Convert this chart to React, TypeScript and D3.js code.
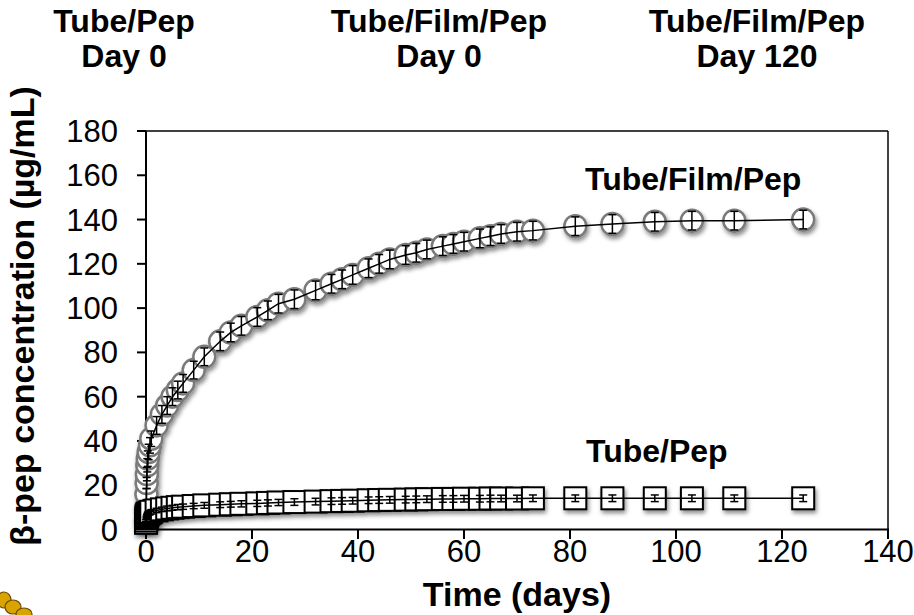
import React from 'react';
import * as d3 from 'd3';

const days = [
  0, 0.04, 0.08, 0.125, 0.17, 0.25, 0.33, 0.5, 0.75, 1, 2, 3, 4, 5, 6, 7, 9, 11, 14, 16, 18, 21, 23, 25, 28,
  32, 35, 37, 39, 42, 44, 46, 49, 51, 53, 56, 58, 60, 63, 65, 67, 70, 73, 81, 88, 96, 103, 111, 124,
];

const filmPep = [
  4, 10, 16, 21, 25, 29, 32, 35, 38, 41, 47, 52, 56, 60, 63, 66, 72, 78, 85, 89, 92, 96, 99, 102, 104,
  108, 111, 113, 115, 118, 120, 122, 124, 125, 126.5, 128, 129, 130, 131.5, 132.5, 133.5, 134.5, 135, 137, 138, 139, 139.5, 139.5, 140,
];
const filmErr = [
  1.5, 2, 2.5, 2.5, 3, 3, 3.5, 3.5, 3.5, 3.5, 4, 4, 4, 4, 4, 4, 4, 4, 4.2, 4.2, 4.2, 4.2, 4.2, 4.2, 4.2,
  4.2, 4.2, 4.2, 4.2, 4.2, 4.2, 4.2, 4.2, 4.2, 4.2, 4.2, 4.2, 4.2, 4.2, 4.2, 4.2, 4.2, 4.2, 4.2, 4.2, 4.2, 4.2, 4.2, 4.2,
];

const tubePep = [
  3, 4, 5, 5.5, 6, 6.5, 7, 7.3, 7.6, 8, 8.6, 9.1, 9.5, 9.8, 10.1, 10.3, 10.6, 10.9, 11.2, 11.4, 11.6, 11.8, 12, 12.2, 12.4,
  12.6, 12.8, 12.9, 13, 13.2, 13.3, 13.4, 13.5, 13.6, 13.7, 13.8, 13.8, 13.9, 13.9, 14, 14, 14, 14.1, 14.1, 14.1, 14.1, 14.1, 14.1, 14.1,
];
const tubeErr = [
  0.5, 0.5, 0.6, 0.6, 0.7, 0.7, 0.8, 0.8, 0.9, 1, 1, 1, 1.1, 1.1, 1.2, 1.2, 1.2, 1.3, 1.3, 1.3, 1.4, 1.4, 1.4, 1.4, 1.5,
  1.5, 1.5, 1.5, 1.5, 1.5, 1.5, 1.5, 1.5, 1.5, 1.5, 1.5, 1.5, 1.5, 1.5, 1.5, 1.5, 1.5, 1.5, 1.5, 1.5, 1.5, 1.5, 1.5, 1.5,
];

const xTicks = [0, 20, 40, 60, 80, 100, 120, 140];
const yTicks = [0, 20, 40, 60, 80, 100, 120, 140, 160, 180];

const topLabels = [
  { x: 124, lines: ['Tube/Pep', 'Day 0'] },
  { x: 439, lines: ['Tube/Film/Pep', 'Day 0'] },
  { x: 757, lines: ['Tube/Film/Pep', 'Day 120'] },
];

const W = 914;
const H = 615;
const FONT = "'Liberation Sans', Arial, sans-serif";

export default function App() {
  const x = d3.scaleLinear().domain([0, 140]).range([146, 888]);
  const y = d3.scaleLinear().domain([0, 180]).range([529.5, 131]);

  const line = d3.line<number>()
    .x((_, i) => x(days[i]))
    .y(d => y(d));

  const cap = 4;

  return (
    <svg width={W} height={H} style={{ position: 'absolute', left: 0, top: 0, background: '#fff' }} fontFamily={FONT}>
      <defs>
        <filter id="shadow" x="-50%" y="-50%" width="200%" height="200%">
          <feDropShadow dx="1.5" dy="3" stdDeviation="2" floodColor="#000" floodOpacity="0.45" />
        </filter>
      </defs>

      {/* top captions */}
      {topLabels.map((t, i) => (
        <g key={i} fontWeight="bold" fontSize={32} textAnchor="middle">
          <text x={t.x} y={32}>{t.lines[0]}</text>
          <text x={t.x} y={67}>{t.lines[1]}</text>
        </g>
      ))}

      {/* plot frame */}
      <line x1={146} x2={888} y1={131} y2={131} stroke="#000" strokeWidth={1.5} />
      <line x1={888} x2={888} y1={131} y2={529.5} stroke="#000" strokeWidth={1.5} />
      <line x1={146} x2={146} y1={131} y2={530.5} stroke="#000" strokeWidth={2} />
      <line x1={145} x2={889} y1={529.5} y2={529.5} stroke="#000" strokeWidth={2} />

      {yTicks.map(t => (
        <g key={t}>
          <line x1={137} x2={146} y1={y(t)} y2={y(t)} stroke="#000" strokeWidth={2} />
          <text x={118} y={y(t) + 11} textAnchor="end" fontSize={31}>{t}</text>
        </g>
      ))}
      {xTicks.map(t => (
        <g key={t}>
          <line x1={x(t)} x2={x(t)} y1={529.5} y2={539} stroke="#000" strokeWidth={2} />
          <text x={x(t)} y={562} textAnchor="middle" fontSize={31}>{t}</text>
        </g>
      ))}

      <text x={517} y={606} textAnchor="middle" fontSize={34} fontWeight="bold">Time (days)</text>
      <text transform="translate(34,316) rotate(-90)" textAnchor="middle" fontSize={34} fontWeight="bold">
        β-pep concentration (µg/mL)
      </text>

      {/* Tube/Film/Pep series: circles */}
      <g filter="url(#shadow)">
        {filmPep.map((v, i) => (
          <circle key={i} cx={x(days[i])} cy={y(v)} r={11} fill="#fff" stroke="#7a7a7a" strokeWidth={2.5} />
        ))}
      </g>
      <path d={line(filmPep) || ''} fill="none" stroke="#000" strokeWidth={1.5} />
      <g stroke="#000" strokeWidth={1.5}>
        {filmPep.map((v, i) => (
          <g key={i}>
            <line x1={x(days[i])} x2={x(days[i])} y1={y(v - filmErr[i])} y2={y(v + filmErr[i])} />
            <line x1={x(days[i]) - cap} x2={x(days[i]) + cap} y1={y(v - filmErr[i])} y2={y(v - filmErr[i])} />
            <line x1={x(days[i]) - cap} x2={x(days[i]) + cap} y1={y(v + filmErr[i])} y2={y(v + filmErr[i])} />
          </g>
        ))}
      </g>

      {/* Tube/Pep series: squares */}
      <g filter="url(#shadow)">
        {tubePep.map((v, i) => (
          <rect key={i} x={x(days[i]) - 11} y={y(v) - 11} width={22} height={22} fill="#fff" stroke="#000" strokeWidth={2} />
        ))}
      </g>
      <path d={line(tubePep) || ''} fill="none" stroke="#000" strokeWidth={1.5} />
      <g stroke="#000" strokeWidth={1.5}>
        {tubePep.map((v, i) => (
          <g key={i}>
            <line x1={x(days[i])} x2={x(days[i])} y1={y(v - tubeErr[i])} y2={y(v + tubeErr[i])} />
            <line x1={x(days[i]) - cap} x2={x(days[i]) + cap} y1={y(v - tubeErr[i])} y2={y(v - tubeErr[i])} />
            <line x1={x(days[i]) - cap} x2={x(days[i]) + cap} y1={y(v + tubeErr[i])} y2={y(v + tubeErr[i])} />
          </g>
        ))}
      </g>

      {/* series labels */}
      <text x={585} y={190} fontSize={32} fontWeight="bold">Tube/Film/Pep</text>
      <text x={586} y={462} fontSize={32} fontWeight="bold">Tube/Pep</text>

      {/* cropped yellow fragment at bottom-left */}
      <g fill="#d9a400" stroke="#6b4a00" strokeWidth={1.2}>
        <ellipse cx={4} cy={600} rx={7} ry={8} />
        <ellipse cx={13} cy={607} rx={8} ry={7} />
        <ellipse cx={24} cy={614} rx={8} ry={6} />
      </g>
    </svg>
  );
}
